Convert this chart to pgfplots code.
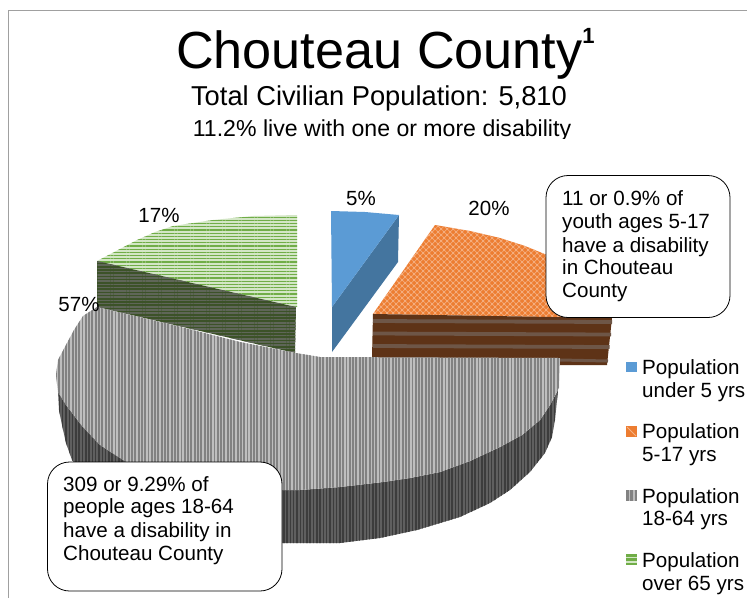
\documentclass[border=0pt]{standalone}
\usepackage{pgfplots}
\usepackage{pgfplotstable}
\usepackage{fontspec}
\setmainfont{Liberation Sans}
\usetikzlibrary{patterns.meta}
\pgfplotsset{compat=1.18}
\definecolor{blueT}{HTML}{5B9BD5}
\definecolor{blueS}{HTML}{44759F}
\definecolor{orangeT}{HTML}{ED7D31}
\definecolor{orangeL}{HTML}{F5B387}
\definecolor{brownS}{HTML}{5E3317}
\definecolor{brownL}{HTML}{6E5647}
\definecolor{greenT}{HTML}{D3E6C6}
\definecolor{greenL}{HTML}{70AD47}
\definecolor{greenS}{HTML}{3C5228}
\definecolor{greenSL}{HTML}{5F6658}
\definecolor{grayT}{HTML}{BEBEBE}
\definecolor{grayL}{HTML}{828282}
\definecolor{grayS}{HTML}{5F5F5F}
\definecolor{graySL}{HTML}{3C3C3C}
\definecolor{frameC}{HTML}{A0A0A0}
\newcommand\lab[3]{\node[anchor=base west, inner sep=0pt, font=\fontsize{20.6}{20.6}\selectfont] at (axis cs:#1,#2) {#3};}
\newcommand\clab[3]{\node[anchor=base, inner sep=0pt, font=\fontsize{20.5}{20.5}\selectfont] at (axis cs:#1,#2) {#3};}
\pgfplotstableread{
x y
97 261
118 250
137 240
155 232
173 226
213 220
253 216
297 215
297 307
}\greenTop
\pgfplotstableread{
x y
97 261
296 307
295 353
97 307
}\greenSide
\pgfplotstableread{
x y
331 211
365 212
399 215
332 307
}\blueTop
\pgfplotstableread{
x y
399 215
398 262
332 352
332 307
}\blueSide
\pgfplotstableread{
x y
373 314
435 225
470 231
500 238
525 246
547 255
575 274
595 293
612 318
}\orangeTop
\pgfplotstableread{
x y
373 314
612 318
607 365
560 365
372 358
}\orangeSide
\pgfplotstableread{
x y
58 392
59 410
62 425
66 443
72 460
90 482
120 505
160 522
200 535
240 540
282 543
340 543
380 538
417 530
460 517
490 503
510 490
530 472
545 453
552 437
555 420
558 390
550 405
540 420
522 435
500 447
470 461
440 472
410 478
383 482
340 487
300 490
282 490
}\grayFront
\pgfplotstableread{
x y
97 307
173 325
240 342
296 353
320 357
560 358
559 388
550 405
540 420
522 435
500 447
470 461
440 472
410 478
383 482
340 487
300 490
282 490
240 488
200 484
172 479
150 472
135 466
123 460
100 445
82 426
66 405
58 392
56 375
58 360
67 343
74 330
83 316
}\grayTop
\begin{document}
\begin{tikzpicture}
\begin{axis}[
  width=747pt, height=598pt, scale only axis,
  xmin=0, xmax=747, ymin=0, ymax=598, y dir=reverse,
  hide axis, clip=true,
  every axis plot/.append style={draw=none},
]
% page background fixes the picture's extent
\addplot[fill=white] coordinates {(0,0)(747,0)(747,598)(0,598)} -- cycle;
% frame
\addplot[draw=frameC, line width=1pt] coordinates {(8,598)(8,10.5)(747,10.5)};
% green
\addplot[fill=greenT] table {\greenTop} -- cycle;
\addplot[pattern={Lines[angle=0,distance=3.2pt,line width=1.1pt]}, pattern color=greenL] table {\greenTop} -- cycle;
\addplot[fill=greenS] table {\greenSide} -- cycle;
\addplot[pattern={Lines[angle=0,distance=3.2pt,line width=1.6pt]}, pattern color=greenSL] table {\greenSide} -- cycle;
% blue
\addplot[fill=blueS] table {\blueSide} -- cycle;
\addplot[fill=blueT] table {\blueTop} -- cycle;
% orange
\addplot[fill=orangeT] table {\orangeTop} -- cycle;
\addplot[pattern={Hatch[angle=45,distance=4.243pt,line width=0.7pt]}, pattern color=orangeL] table {\orangeTop} -- cycle;
\addplot[fill=brownS] table {\orangeSide} -- cycle;
\addplot[draw=brownL, line width=3.8pt] coordinates {(373,321)(612,322)};
\addplot[draw=brownL, line width=3.8pt] coordinates {(373,333.5)(611,334.5)};
\addplot[draw=brownL, line width=3.8pt] coordinates {(373,346)(609.5,347)};
\addplot[draw=brownL, line width=3pt] coordinates {(560,360)(608,361)};
% gray
\addplot[fill=grayS] table {\grayFront} -- cycle;
\addplot[pattern={Lines[angle=90,distance=3.3pt,line width=1.5pt]}, pattern color=graySL] table {\grayFront} -- cycle;
\addplot[fill=grayT] table {\grayTop} -- cycle;
\addplot[pattern={Lines[angle=90,distance=3.3pt,line width=1.9pt]}, pattern color=grayL] table {\grayTop} -- cycle;
% legend keys
\addplot[fill=blueT] coordinates {(626,362)(637,362)(637,372)(626,372)} -- cycle;
\addplot[fill=orangeT] coordinates {(626,426)(637,426)(637,437)(626,437)} -- cycle;
\addplot[draw=orangeL, line width=1pt] coordinates {(627,427)(636,436)};
\addplot[fill=grayT] coordinates {(626,490)(637,490)(637,501)(626,501)} -- cycle;
\addplot[draw=grayL, line width=2.4pt] coordinates {(627.5,490)(627.5,501)};
\addplot[draw=grayL, line width=2.4pt] coordinates {(631.5,490)(631.5,501)};
\addplot[draw=grayL, line width=2.4pt] coordinates {(635.7,490)(635.7,501)};
\addplot[fill=greenT] coordinates {(626,554)(637,554)(637,565)(626,565)} -- cycle;
\addplot[draw=greenL, line width=2.4pt] coordinates {(626,555.5)(637,555.5)};
\addplot[draw=greenL, line width=2.4pt] coordinates {(626,559.5)(637,559.5)};
\addplot[draw=greenL, line width=2.4pt] coordinates {(626,563.7)(637,563.7)};
% titles
\node[anchor=base west, inner sep=0pt, font=\fontsize{52.2}{52.2}\selectfont] at (axis cs:176,68) {Chouteau County\raisebox{25pt}{\fontsize{22}{22}\selectfont\bfseries 1}};
\node[anchor=base, inner sep=0pt, font=\fontsize{27.3}{27.3}\selectfont] at (axis cs:379,105) {Total Civilian Population: 5,810};
\node[anchor=base, inner sep=0pt, font=\fontsize{23.1}{23.1}\selectfont] at (axis cs:382,136) {11.2\% live with one or more disability};
\fill[white] (axis cs:150,138.5) rectangle (axis cs:620,150);
% data labels
\clab{361}{205}{5\%}
\clab{489}{215}{20\%}
\clab{159}{222}{17\%}
\clab{79}{311}{57\%}
% callouts
\draw[black, line width=0.8pt, fill=white, rounded corners=22pt] (axis cs:546,175.5) rectangle (axis cs:730,317.5);
\draw[black, line width=0.8pt, fill=white, rounded corners=22pt] (axis cs:47.5,462) rectangle (axis cs:282,591);
\lab{562}{205}{11 or 0.9\% of}
\lab{562}{228}{youth ages 5-17}
\lab{562}{252}{have a disability}
\lab{562}{274}{in Chouteau}
\lab{562}{297}{County}
\lab{63}{491}{309 or 9.29\% of}
\lab{63}{513}{people ages 18-64}
\lab{63}{537}{have a disability in}
\lab{63}{560}{Chouteau County}
% legend text
\lab{642}{374}{Population}
\lab{642}{397}{under 5 yrs}
\lab{642}{438}{Population}
\lab{642}{461}{5-17 yrs}
\lab{642}{503}{Population}
\lab{642}{525}{18-64 yrs}
\lab{642}{567}{Population}
\lab{642}{590}{over 65 yrs}
\end{axis}
\end{tikzpicture}
\end{document}
